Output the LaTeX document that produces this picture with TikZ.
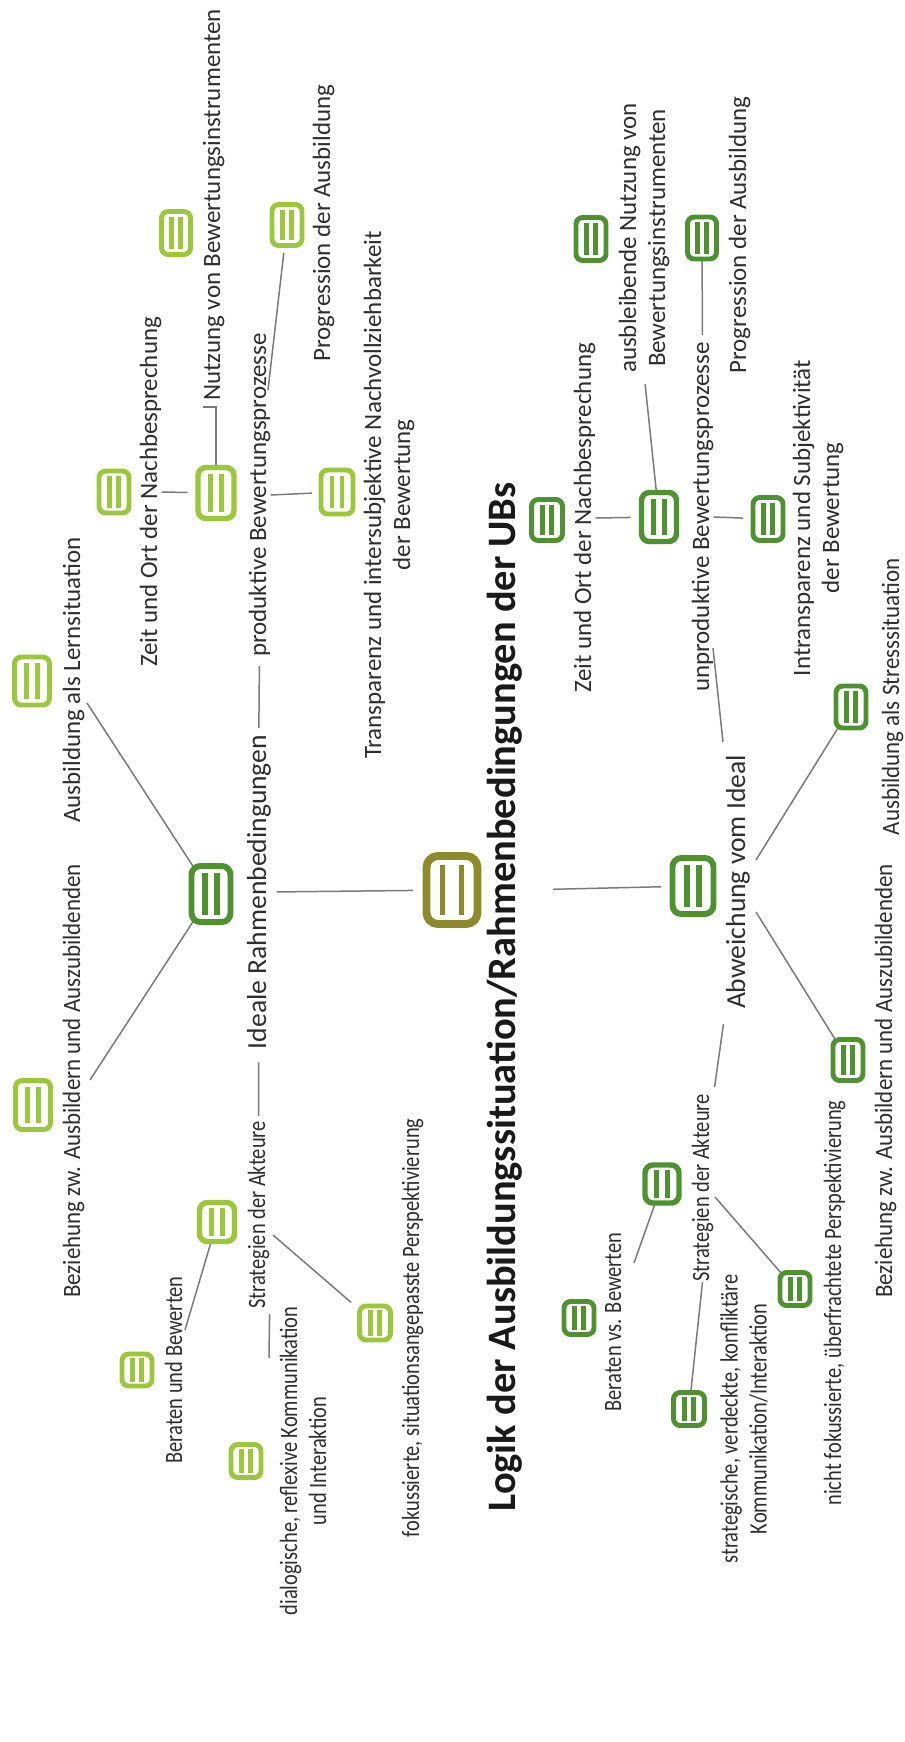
\documentclass[tikz,border=0pt]{standalone}
\usepackage{fontspec}
\setmainfont{Carlito}
\newfontfamily\tightfamily[FakeStretch=0.82]{Carlito}
\newfontfamily\semitightfamily[FakeStretch=0.92]{Carlito}
\usepackage{xcolor}
\usetikzlibrary{calc,backgrounds}
\definecolor{leafgreen}{HTML}{9BC83A}
\definecolor{deepgreen}{HTML}{4E9230}
\definecolor{olivegold}{HTML}{8C8A2A}
\definecolor{inkgray}{HTML}{2E2E2E}
\definecolor{linegray}{HTML}{7A7A7A}
\newcommand{\leaffont}{\fontsize{14.2}{16.5}\selectfont}
\newcommand{\tightleaffont}{\tightfamily\fontsize{14.2}{16.5}\selectfont}
\newcommand{\semileaffont}{\semitightfamily\fontsize{14.2}{16.5}\selectfont}
\newcommand{\hubfont}{\fontsize{15.7}{18}\selectfont}
\newcommand{\titlefont}{\fontsize{23}{26}\selectfont\bfseries}

\begin{document}
\begin{tikzpicture}[
        x=0.02cm, y=-0.02cm,
        bar width/.store in=\iconbarwd, bar width=2.6pt,
        bar at/.store in=\iconbarpos, bar at=0.35,
        icon/.style={
          draw, color=#1, fill=white,
          inner sep=0pt, outer sep=0pt,
          line width=2.8pt, rounded corners=3.8pt,
          path picture={
            \draw[line width=\iconbarwd]
              let \p1=(path picture bounding box.south west),
                  \p2=(path picture bounding box.north east) in
              ({\x1+\iconbarpos*(\x2-\x1)},{\y1+0.13*(\y2-\y1)}) --
              ({\x1+\iconbarpos*(\x2-\x1)},{\y1+0.87*(\y2-\y1)})
              ({\x2-\iconbarpos*(\x2-\x1)},{\y1+0.13*(\y2-\y1)}) --
              ({\x2-\iconbarpos*(\x2-\x1)},{\y1+0.87*(\y2-\y1)});
          }
        },
        dims/.style 2 args={minimum width=#1*0.02cm, minimum height=#2*0.02cm},
        leaf/.style={icon=leafgreen},
        deep/.style={icon=deepgreen},
        subhub/.style={line width=3.1pt, bar width=2.9pt, rounded corners=4.5pt},
        hub/.style={icon=deepgreen, line width=3.4pt, bar width=3.3pt, rounded corners=5pt},
        lbl/.style={rotate=90, inner sep=0pt, anchor=base, text=inkgray, font=\leaffont},
        lbl2/.style={lbl, anchor=center, align=center},
        tight/.style={font=\tightleaffont},
        semitight/.style={font=\semileaffont},
        hublbl/.style={lbl, font=\hubfont},
        titlelbl/.style={lbl, font=\titlefont, text=black!90},
        link/.style={draw=linegray, line width=0.85pt}
      ]

      \useasboundingbox (0,0) rectangle (904,1742);

      % central topic
      \node[icon=olivegold, line width=4.5pt, rounded corners=6.5pt, bar width=2.8pt, bar at=0.315, dims={51}{68}] (center) at (452,890) {};
      \node[titlelbl] (title) at (515,997) {Logik der Ausbildungssituation/Rahmenbedingungen der UBs};

      % branch: ideale Rahmenbedingungen
      \node[hub, dims={39}{56}] (ideal) at (211,894) {};
      \node[hublbl] (idealtxt) at (266,892) {Ideale Rahmenbedingungen};

      \node[leaf, dims={35}{48}] (lern) at (32,681) {};
      \node[lbl] (lerntxt) at (80,680) {Ausbildung als Lernsituation};
      \node[leaf, dims={35}{49}] (bez1) at (33,1105) {};
      \node[lbl, semitight] (bez1txt) at (80,1081) {Beziehung zw. Ausbildern und Auszubildenden};

      \node[leaf, subhub, dims={36}{51}] (prod) at (216,493) {};
      \node[lbl] (prodtxt) at (266,495) {produktive Bewertungsprozesse};
      \node[leaf, dims={30}{42}] (zeit1) at (114,492) {};
      \node[lbl] (zeit1txt) at (157,492) {Zeit und Ort der Nachbesprechung};
      \node[leaf, dims={29}{43}] (nutz) at (176,233) {};
      \node[lbl] (nutztxt) at (220,205) {Nutzung von Bewertungsinstrumenten};
      \node[leaf, dims={30}{41}] (prog1) at (287,225) {};
      \node[lbl] (prog1txt) at (330,223) {Progression der Ausbildung};
      \node[leaf, dims={32}{44}] (transp) at (337,492) {};
      \node[lbl2] (transptxt) at (389,495) {Transparenz und intersubjektive Nachvollziehbarkeit\\der Bewertung};

      \node[leaf, subhub, dims={35}{39}] (strat1) at (217,1222) {};
      \node[lbl, tight] (strat1txt) at (265,1215) {Strategien der Akteure};
      \node[leaf, dims={30}{32}] (berat1) at (137,1370) {};
      \node[lbl, tight] (berat1txt) at (182,1370) {Beraten und Bewerten};
      \node[leaf, dims={30}{33}] (dialog) at (246,1461) {};
      \node[lbl2, tight] (dialogtxt) at (303,1461) {dialogische, reflexive Kommunikation\\und Interaktion};
      \node[leaf, dims={31}{34}] (fokus) at (375,1323) {};
      \node[lbl, tight] (fokustxt) at (419,1328) {fokussierte, situationsangepasste Perspektivierung};

      % branch: Abweichung vom Ideal
      \node[hub, dims={41}{56}] (abw) at (693,886) {};
      \node[hublbl] (abwtxt) at (745,882) {Abweichung vom Ideal};

      \node[deep, subhub, dims={35}{49}] (unprod) at (659,517) {};
      \node[lbl] (unprodtxt) at (709,517) {unproduktive Bewertungsprozesse};
      \node[deep, dims={31}{41}] (zeit2) at (547,520) {};
      \node[lbl] (zeit2txt) at (591,518) {Zeit und Ort der Nachbesprechung};
      \node[deep, dims={30}{43}] (ausbl) at (591,239) {};
      \node[lbl2] (ausbltxt) at (644,238) {ausbleibende Nutzung von\\Bewertungsinstrumenten};
      \node[deep, dims={29}{42}] (prog2) at (702,238) {};
      \node[lbl] (prog2txt) at (746,235) {Progression der Ausbildung};
      \node[deep, dims={30}{43}] (intrans) at (768,519) {};
      \node[lbl2] (intranstxt) at (818,518) {Intransparenz und Subjektivität\\der Bewertung};

      \node[deep, dims={30}{42}] (stress) at (851,707) {};
      \node[lbl, semitight] (stresstxt) at (899,697) {Ausbildung als Stresssituation};
      \node[deep, dims={30}{41}] (bez2) at (848,1060) {};
      \node[lbl, semitight] (bez2txt) at (892,1081) {Beziehung zw. Ausbildern und Auszubildenden};

      \node[deep, subhub, dims={34}{38}] (strat2) at (662,1184) {};
      \node[lbl, tight] (strat2txt) at (709,1188) {Strategien der Akteure};
      \node[deep, dims={30}{33}] (berat2) at (579,1318) {};
      \node[lbl, tight] (berat2txt) at (621,1322) {Beraten vs. Bewerten};
      \node[deep, dims={31}{33}] (strateg) at (689,1409) {};
      \node[lbl2, tight] (strategtxt) at (744,1419) {strategische, verdeckte, konfliktäre\\Kommunikation/Interaktion};
      \node[deep, dims={30}{33}] (nicht) at (795,1289) {};
      \node[lbl, tight] (nichttxt) at (841,1303) {nicht fokussierte, überfrachtete Perspektivierung};

      % loose line ends next to the labels
      \coordinate (lerntip) at (87,703);
      \coordinate (bez1tip) at (90,1080);
      \coordinate (nutztick) at (203,407);
      \coordinate (prodtip) at (268,390);
      \coordinate (berat1tip) at (185,1330);
      \coordinate (dialogtip) at (269,1358);
      \coordinate (strat1tip) at (273,1235);
      \coordinate (abwtop) at (723,742);
      \coordinate (unprodtip) at (713,648);
      \coordinate (abwstress) at (756,860);
      \coordinate (abwbez) at (756,912);
      \coordinate (berat2tip) at (634,1263);
      \coordinate (strat2tip) at (715,1197);

      \begin{scope}[on background layer]
        \draw[link, shorten <=0.27cm, shorten >=0.11cm] (center) -- (idealtxt.south);
        \draw[link, shorten <=0.62cm, shorten >=0.23cm] (title.south |- center) -- (abw);

        \draw[link] (ideal) -- (lerntip);
        \draw[link] (ideal) -- (bez1tip);
        \draw[link, shorten <=0.26cm, shorten >=0.1cm] (idealtxt.west) -- (strat1txt.east);
        \draw[link, shorten <=0.13cm, shorten >=0.18cm] (idealtxt.east) -- (prodtxt.west);
        \draw[link, shorten >=0.21cm] (zeit1txt.south) -- (prod);
        \draw[link, shorten >=0.18cm] (prodtxt.south) -- (transp);
        \draw[link] (prod) |- (nutztick);
        \draw[link, shorten >=0.15cm] (prodtip) -- (prog1);
        \draw[link] (strat1) -- (berat1tip);
        \draw[link, shorten <=0.1cm] (strat1txt.south west) -- (dialogtip);
        \draw[link, shorten >=0.22cm] (strat1tip) -- (fokus);

        \draw[link] (abwtop) -- (unprodtip);
        \draw[link, shorten >=0.22cm] (zeit2txt.south) -- (unprod);
        \draw[link, shorten >=0.2cm] (unprodtxt.south) -- (intrans);
        \draw[link, shorten >=0.22cm] (unprod) -- (ausbltxt.west);
        \draw[link, shorten <=0.14cm] (unprodtxt.east) -- (prog2);
        \draw[link] (abwstress) -- (stress);
        \draw[link] (abwbez) -- (bez2);
        \draw[link, shorten <=0.3cm, shorten >=0.14cm] (abwtxt.north west) -- (strat2txt.south east);
        \draw[link] (strat2) -- (berat2tip);
        \draw[link] (strat2txt.west) -- (strateg);
        \draw[link] (strat2tip) -- (nicht);
      \end{scope}

\end{tikzpicture}
\end{document}
